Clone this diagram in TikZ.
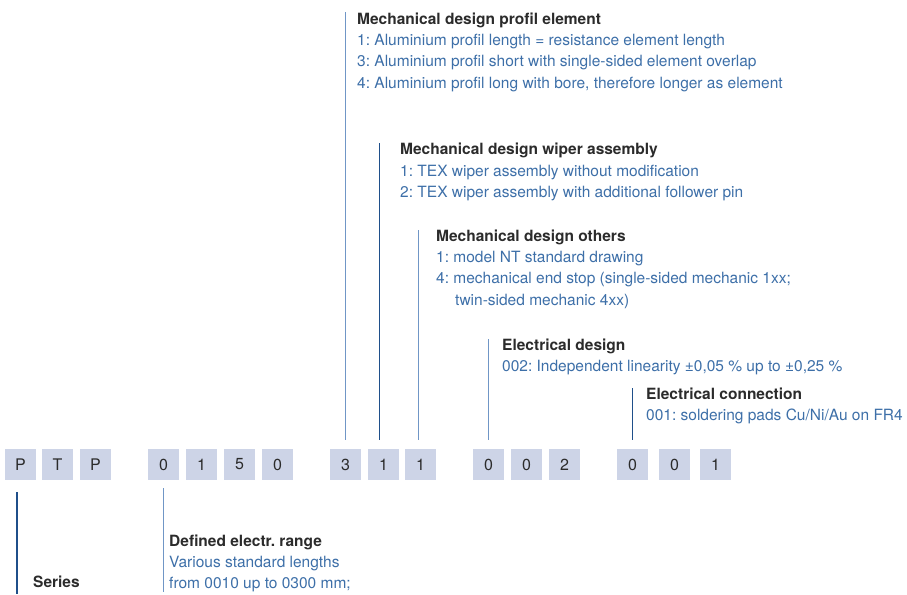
\documentclass[tikz,border=0pt]{standalone}
\usepackage{fontspec}
\setmainfont{TeX Gyre Heros}
\usepackage{xcolor}
\usepackage{tikz}
\usetikzlibrary{calc, positioning}
\frenchspacing
\definecolor{boxfill}{HTML}{CDD4E7}
\definecolor{headgray}{HTML}{2B2B2B}
\definecolor{itemblue}{HTML}{3D6FA8}
\definecolor{lightblue}{HTML}{7096C6}
\definecolor{darkblue}{HTML}{1F4F8A}
\tikzset{
    codenode/.style = {rectangle, fill=boxfill, draw=none, minimum size=31pt, inner sep=0em,
      node distance=0em, text=headgray, font=\fontsize{16}{18}\selectfont},
    textnode/.style = {draw=none, fill=none, rectangle, inner sep=0em, anchor=north west,
      align=left, text=itemblue, font=\fontsize{15.5}{21.3}\selectfont},
    lightline/.style = {lightblue, line width=1.1pt},
    darkline/.style = {darkblue, line width=1.1pt}
}
\newcommand{\hd}[1]{{\color{headgray}\bfseries #1}}
\begin{document}
\begin{tikzpicture}[x=1pt, y=-1pt]
    \useasboundingbox (0,0) rectangle (907,594);
    % code boxes
    \node[codenode, name=p1] at (20.5,464.5) {P};
    \node[codenode, name=p2, right of = p1, xshift=37] {T};
    \node[codenode, name=p3, right of = p2, xshift=38] {P};
    \node[codenode, name=r1, right of = p3, xshift=68] {0};
    \node[codenode, name=r2, right of = r1, xshift=38] {1};
    \node[codenode, name=r3, right of = r2, xshift=38] {5};
    \node[codenode, name=r4, right of = r3, xshift=38] {0};
    \node[codenode, name=m1, right of = r4, xshift=68] {3};
    \node[codenode, name=m2, right of = m1, xshift=38] {1};
    \node[codenode, name=m3, right of = m2, xshift=37] {1};
    \node[codenode, name=e1, right of = m3, xshift=68] {0};
    \node[codenode, name=e2, right of = e1, xshift=38] {0};
    \node[codenode, name=e3, right of = e2, xshift=38] {2};
    \node[codenode, name=c1, right of = e3, xshift=68] {0};
    \node[codenode, name=c2, right of = c1, xshift=42] {0};
    \node[codenode, name=c3, right of = c2, xshift=41] {1};
    % descriptions
    \node[textnode, name=profil] at (357,12.4) {\hd{Mechanical design profil element}\\
      1: Aluminium profil length = resistance element length\\
      3: Aluminium profil short with single-sided element overlap\\
      4: Aluminium profil long with bore, therefore longer as element};
    \node[textnode, name=wiper] at (400,143) {\hd{Mechanical design wiper assembly}\\
      1: TEX wiper assembly without modification\\
      2: TEX wiper assembly with additional follower pin};
    \node[textnode, name=others] at (436,229.5) {\hd{Mechanical design others}\\
      1: model NT standard drawing\\
      4: mechanical end stop (single-sided mechanic 1xx;\\
      \hspace*{19pt}twin-sided mechanic 4xx)};
    \node[textnode, name=eldesign] at (502,338.5) {\hd{Electrical design}\\
      002: Independent linearity ±0,05 \% up to ±0,25 \%};
    \node[textnode, name=elconn] at (646,387.5) {\hd{Electrical connection}\\
      001: soldering pads Cu/Ni/Au on FR4};
    \node[textnode, name=range] at (169,534.5) {\hd{Defined electr. range}\\
      Various standard lengths\\
      from 0010 up to 0300 mm;};
    \node[textnode, name=series] at (33,575.5) {\hd{Series}};
    \coordinate (seriesend) at (17,594);
    % connectors
    \draw[lightline, shorten <=9pt] (m1.north) -- (m1.north |- profil.north);
    \draw[darkline, shorten <=9pt] ([xshift=-4pt]m2.north) -- ([xshift=-4pt]m2.north |- wiper.north);
    \draw[lightline, shorten <=9pt] ([xshift=-2pt]m3.north) -- ([xshift=-2pt]m3.north |- others.north);
    \draw[lightline, shorten <=9pt] (e1.north) -- (e1.north |- eldesign.north);
    \draw[darkline, shorten <=9pt] (c1.north) -- (c1.north |- elconn.north);
    \draw[lightline, shorten <=8pt] (r1.south) -- (r1.south |- range.south);
    \draw[darkline, shorten <=12pt] (seriesend |- p1.south) -- (seriesend);
\end{tikzpicture}
\end{document}
